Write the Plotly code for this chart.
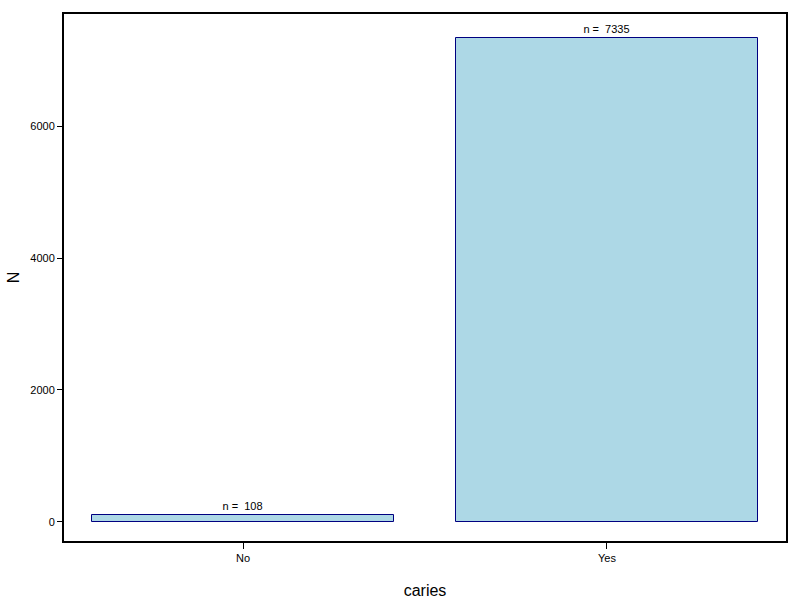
import plotly.graph_objects as go

categories = ["No", "Yes"]
counts = [108, 7335]
labels = ["n =  108", "n =  7335"]

fig = go.Figure()
fig.add_trace(go.Bar(
    x=categories, y=counts, width=0.832,
    marker=dict(color="#ADD8E6", line=dict(color="#000080", width=1)),
    text=labels, textposition="outside", cliponaxis=False,
    textfont=dict(family="Liberation Sans, Arial, sans-serif", size=11, color="black"),
    showlegend=False, hoverinfo="skip",
))

fig.update_layout(
    width=800, height=600,
    margin=dict(l=64, r=14, t=14, b=59, autoexpand=False),
    paper_bgcolor="white", plot_bgcolor="white",
    font=dict(family="Liberation Sans, Arial, sans-serif", size=11, color="black"),
    bargap=0,
)
fig.update_xaxes(
    range=[-0.492, 1.492], showline=True, mirror=True, linecolor="black", linewidth=2,
    ticks="outside", ticklen=6, tickcolor="black", tickwidth=1, showgrid=False,
    automargin=False,
    title=dict(text="caries", font=dict(size=16), standoff=22),
)
fig.update_yaxes(
    range=[-288, 7697], showline=True, mirror=True, linecolor="black", linewidth=2,
    ticks="outside", ticklen=5, tickcolor="black", tickwidth=1, showgrid=False,
    zeroline=False, tickvals=[0, 2000, 4000, 6000], automargin=False,
    title=dict(text="N", font=dict(size=16), standoff=7),
)

fig.write_html(
    "out.html",
    config={"displayModeBar": False},
    post_script="document.body.style.margin='0';document.body.style.overflow='hidden';",
)
